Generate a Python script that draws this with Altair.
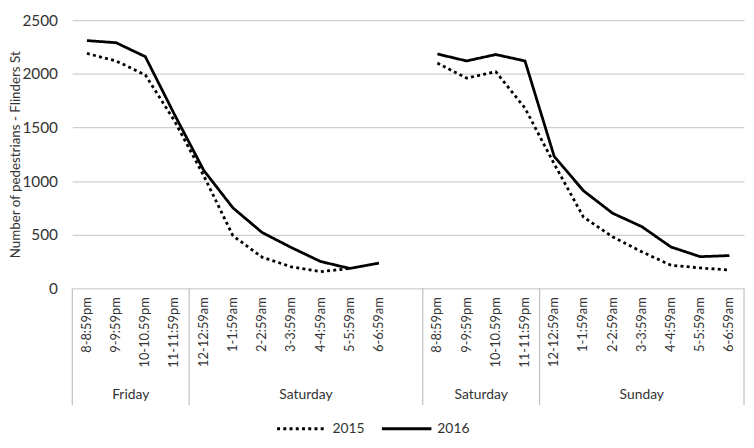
import altair as alt
import pandas as pd

# ---- data ----
hours = ["8-8:59pm", "9-9:59pm", "10-10.59pm", "11-11:59pm", "12-12:59am",
         "1-1:59am", "2-2:59am", "3-3:59am", "4-4:59am", "5-5:59am", "6-6:59am"]
fri_2015 = [2190, 2120, 1990, 1560, 1050, 490, 290, 200, 155, 185, None]
fri_2016 = [2310, 2290, 2160, 1620, 1100, 750, 520, 380, 250, 185, 235]
sat_2015 = [2100, 1960, 2020, 1680, 1160, 665, 480, 340, 215, 190, 170]
sat_2016 = [2185, 2120, 2180, 2120, 1230, 910, 700, 575, 385, 295, 305]
group_names = ["Friday", "Saturday", "Saturday", "Sunday"]
group_bounds = [0, 4, 12, 16, 23]   # category boundaries of the two-level axis
night_start = [0, 12]               # first category index of each night
years = ["2015", "2016"]

# ---- tables ----
rows = []
for night, (s15, s16) in enumerate([(fri_2015, fri_2016), (sat_2015, sat_2016)]):
    for i, h in enumerate(hours):
        pos = night_start[night] + i + 0.5
        for yr, vals in zip(years, (s15, s16)):
            if vals[i] is not None:
                rows.append({"pos": pos, "value": vals[i], "year": yr, "night": night})
line_df = pd.DataFrame(rows)

tick_df = pd.DataFrame([
    {"pos": night_start[n] + i + 0.5, "label": h}
    for n in range(2) for i, h in enumerate(hours)
])
sep_df = pd.DataFrame({"pos": group_bounds})
grp_df = pd.DataFrame({
    "pos": [(group_bounds[k] + group_bounds[k + 1]) / 2 for k in range(4)],
    "label": group_names,
})

W, H = 679, 271
FONT = "Lato"
TXT = "#333333"
GRID = "#cfcfcf"
DASH = {"2015": [3, 3.3], "2016": [1, 0]}

xscale = alt.Scale(domain=[0, 23], nice=False, zero=False)
yscale = alt.Scale(domain=[0, 2500], nice=False)

yaxis = alt.Axis(values=[0, 500, 1000, 1500, 2000, 2500], format="d", grid=True,
                 gridColor=GRID, gridWidth=1.2, ticks=False, domain=False,
                 labelPadding=15, labelFontSize=15.5, labelFont=FONT,
                 labelColor=TXT, title="Number of pedestrians - Flinders St",
                 titleFontSize=13.5, titleFont=FONT, titleColor=TXT,
                 titleFontWeight="normal", titleAngle=270, titleX=-57,
                 titleY=H / 2, titleAlign="center", titleBaseline="middle")

line_layers = []
for yr in years:
    line_layers.append(
        alt.Chart(line_df[line_df["year"] == yr]).mark_line(
            color="black", strokeWidth=2.8, strokeDash=DASH[yr]).encode(
            x=alt.X("pos:Q", scale=xscale, axis=None),
            y=alt.Y("value:Q", scale=yscale, axis=yaxis),
            detail="night:N",
        )
    )

ticks = alt.Chart(tick_df).mark_text(angle=270, align="right", baseline="middle",
                                     fontSize=13, font=FONT, color=TXT).encode(
    x=alt.X("pos:Q", scale=xscale, axis=None),
    y=alt.value(H + 9),
    text="label:N",
)

seps = alt.Chart(sep_df).mark_rule(color="#c0c0c0", strokeWidth=1.2).encode(
    x=alt.X("pos:Q", scale=xscale, axis=None),
    y=alt.value(H),
    y2=alt.value(H + 118),
)

groups = alt.Chart(grp_df).mark_text(align="center", baseline="middle",
                                     fontSize=14, font=FONT, color=TXT).encode(
    x=alt.X("pos:Q", scale=xscale, axis=None),
    y=alt.value(H + 108),
    text="label:N",
)

# manual legend (swatch + label per year)
leg_x = {"2015": 207, "2016": 313}
LEG_Y = H + 142
legend_layers = []
for yr in years:
    legend_layers.append(
        alt.Chart(pd.DataFrame({"year": [yr]})).mark_rule(
            color="black", strokeWidth=3, strokeDash=DASH[yr]).encode(
            x=alt.value(leg_x[yr]), x2=alt.value(leg_x[yr] + 50),
            y=alt.value(LEG_Y),
        )
    )
    legend_layers.append(
        alt.Chart(pd.DataFrame({"year": [yr]})).mark_text(
            align="left", baseline="middle", fontSize=14, font=FONT, color=TXT).encode(
            x=alt.value(leg_x[yr] + 56),
            y=alt.value(LEG_Y),
            text="year:N",
        )
    )

chart = alt.layer(seps, *line_layers, ticks, groups, *legend_layers).properties(
    width=W, height=H,
    background="white",
    autosize=alt.AutoSizeParams(type="none"),
    padding={"left": 65, "top": 10, "right": 2, "bottom": 150},
).configure_view(stroke=None)

chart.save("out.html", embed_options={"renderer": "svg", "actions": False})
